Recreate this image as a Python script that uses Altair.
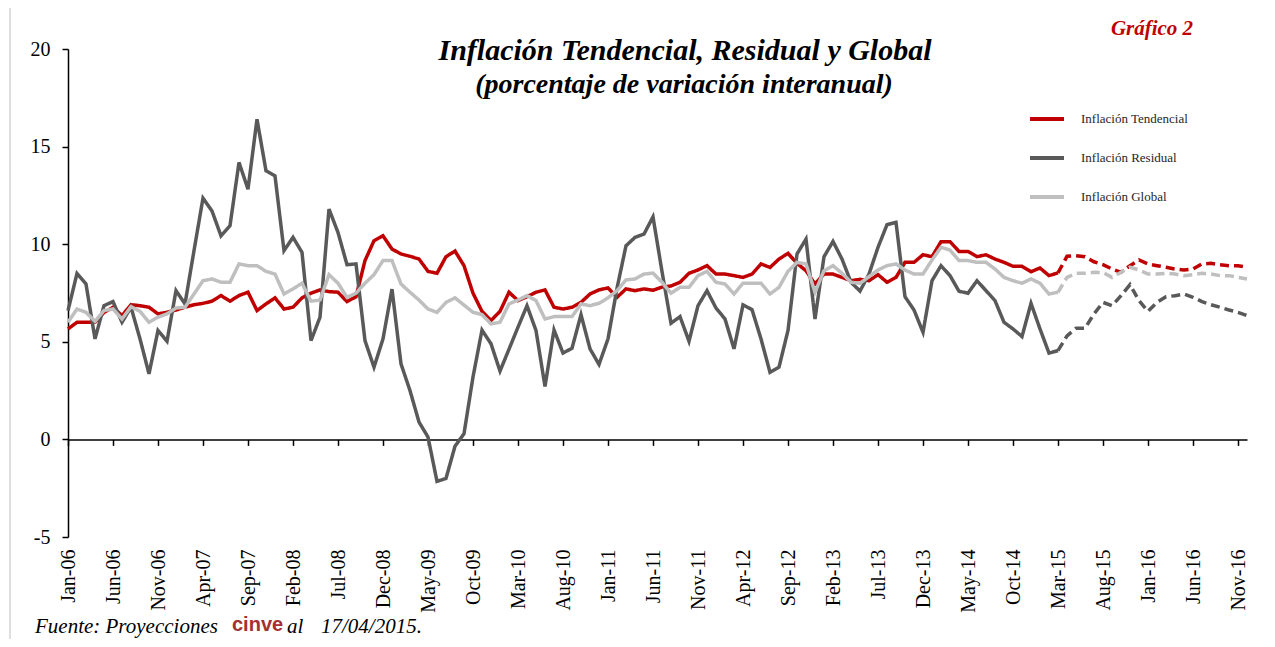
import altair as alt
import pandas as pd

MESES_ABBR = ["Jan", "Feb", "Mar", "Apr", "May", "Jun", "Jul", "Aug", "Sep", "Oct", "Nov", "Dec"]
meses = [f"{m}-{y:02d}" for y in range(6, 17) for m in MESES_ABBR]
etiquetas = meses[::5]

tendencial = [
    5.66, 6.0, 6.0, 6.0, 6.51, 6.77, 6.34, 6.9, 6.85, 6.77, 6.43, 6.51,
    6.63, 6.77, 6.9, 6.97, 7.08, 7.37, 7.08, 7.37, 7.54, 6.6, 6.94, 7.25,
    6.68, 6.77, 7.25, 7.49, 7.66, 7.57, 7.54, 7.06, 7.31, 9.16, 10.18, 10.43,
    9.75, 9.5, 9.38, 9.24, 8.61, 8.51, 9.36, 9.65, 8.9, 7.49, 6.56, 6.09,
    6.56, 7.54, 7.11, 7.31, 7.54, 7.66, 6.77, 6.68, 6.77, 7.02, 7.45, 7.66,
    7.76, 7.28, 7.71, 7.62, 7.71, 7.64, 7.8, 7.86, 8.05, 8.51, 8.68, 8.9,
    8.47, 8.47, 8.39, 8.3, 8.47, 8.99, 8.81, 9.24, 9.53, 9.02, 8.64, 7.96,
    8.47, 8.47, 8.3, 8.13, 8.2, 8.13, 8.44, 8.05, 8.3, 9.07, 9.07, 9.46,
    9.36, 10.13, 10.13, 9.63, 9.63, 9.36, 9.46, 9.24, 9.07, 8.87, 8.87, 8.59,
    8.78, 8.39, 8.53, 9.38, 9.41, 9.36, 9.1, 8.95, 8.73, 8.56, 8.9, 9.19,
    8.99, 8.9, 8.82, 8.73, 8.68, 8.73, 8.99, 9.02, 8.95, 8.9, 8.9, 8.82,
]

residual = [
    6.6, 8.5, 7.96, 5.15, 6.85, 7.06, 6.0, 6.77, 5.15, 3.36, 5.58, 5.03,
    7.62, 6.94, 9.67, 12.36, 11.7, 10.43, 10.95, 14.19, 12.82, 16.4, 13.76, 13.5,
    9.67, 10.35, 9.58, 5.06, 6.26, 11.8, 10.6, 8.95, 8.99, 5.06, 3.7, 5.15,
    7.7, 3.87, 2.5, 0.89, 0.12, -2.15, -2.0, -0.35, 0.29, 3.2, 5.6, 4.9,
    3.5, 4.62, 5.75, 6.85, 5.58, 2.71, 5.61, 4.42, 4.67, 6.39, 4.64, 3.84,
    5.15, 7.74, 9.92, 10.35, 10.52, 11.4, 8.6, 5.95, 6.29, 5.03, 6.85, 7.62,
    6.73, 6.17, 4.64, 6.89, 6.65, 5.15, 3.44, 3.7, 5.58, 9.5, 10.26, 6.17,
    9.36, 10.14, 9.24, 8.05, 7.6, 8.47, 9.84, 11.0, 11.12, 7.31, 6.63, 5.49,
    8.13, 8.9, 8.39, 7.59, 7.49, 8.13, 7.62, 7.11, 6.0, 5.66, 5.27, 6.97,
    5.66, 4.42, 4.55, 5.3, 5.69, 5.69, 6.43, 7.02, 6.85, 7.36, 7.93, 7.11,
    6.56, 7.02, 7.31, 7.36, 7.45, 7.28, 7.06, 6.9, 6.77, 6.63, 6.51, 6.34,
]

global_ = [
    6.0, 6.68, 6.51, 6.05, 6.6, 6.68, 6.17, 6.8, 6.56, 6.0, 6.26, 6.43,
    6.73, 6.77, 7.45, 8.13, 8.22, 8.05, 8.05, 8.99, 8.9, 8.9, 8.61, 8.47,
    7.45, 7.71, 8.0, 7.08, 7.14, 8.44, 8.0, 7.28, 7.49, 8.0, 8.44, 9.16,
    9.16, 7.96, 7.54, 7.14, 6.68, 6.51, 7.02, 7.25, 6.88, 6.51, 6.39, 5.92,
    6.0, 6.94, 7.14, 7.37, 7.11, 6.17, 6.29, 6.29, 6.29, 6.94, 6.85, 6.97,
    7.25, 7.62, 8.17, 8.22, 8.47, 8.52, 8.05, 7.49, 7.79, 7.79, 8.39, 8.61,
    8.05, 7.96, 7.45, 8.0, 8.0, 8.0, 7.45, 7.79, 8.61, 9.07, 8.99, 7.54,
    8.64, 8.9, 8.51, 8.05, 8.0, 8.34, 8.68, 8.9, 8.99, 8.68, 8.47, 8.47,
    9.19, 9.84, 9.7, 9.16, 9.16, 9.07, 9.07, 8.73, 8.3, 8.13, 8.0, 8.22,
    8.0, 7.45, 7.54, 8.3, 8.51, 8.51, 8.56, 8.55, 8.3, 8.56, 8.82, 8.68,
    8.47, 8.47, 8.51, 8.47, 8.39, 8.44, 8.51, 8.47, 8.39, 8.39, 8.3, 8.22,
]

series = ["Inflación Tendencial", "Inflación Residual", "Inflación Global"]
colores = ["#c00000", "#595959", "#bfbfbf"]
ultimo_obs = meses.index("Mar-15")

rows = []
for nombre, vals in zip(series, [tendencial, residual, global_]):
    for i, v in enumerate(vals):
        if i <= ultimo_obs:
            rows.append({"mes": meses[i], "serie": nombre, "valor": v, "tipo": "Observado", "orden": i})
        if i >= ultimo_obs:
            rows.append({"mes": meses[i], "serie": nombre, "valor": v, "tipo": "Proyección", "orden": i})
df = pd.DataFrame(rows)

SERIF = "Liberation Serif"
xscale = alt.Scale(domain=meses, type="point", padding=0)

lineas = alt.Chart(df).mark_line(strokeWidth=3.5, strokeCap="butt", strokeJoin="miter").encode(
    x=alt.X("mes:O", scale=xscale,
            axis=alt.Axis(values=etiquetas, labelAngle=-90, labelFont=SERIF, labelFontSize=20,
                          labelColor="black", ticks=False, domain=False, labelPadding=12,
                          title=None, grid=False)),
    y=alt.Y("valor:Q", scale=alt.Scale(domain=[-5, 20], nice=False, zero=False),
            axis=alt.Axis(values=[-5, 0, 5, 10, 15, 20], labelExpr="toString(datum.value)",
                          labelFont=SERIF, labelFontSize=20,
                          labelColor="black", tickColor="black", domainColor="black",
                          domainWidth=1.5, tickWidth=1.5, tickSize=6, labelPadding=12,
                          title=None, grid=False)),
    color=alt.Color("serie:N", scale=alt.Scale(domain=series, range=colores),
                    legend=alt.Legend(orient="none", legendX=960, legendY=51, title=None,
                                      symbolType="stroke", symbolSize=1156, symbolStrokeWidth=4,
                                      labelFont=SERIF, labelFontSize=13, labelColor="#262626",
                                      rowPadding=12, labelOffset=15, padding=0)),
    strokeDash=alt.StrokeDash("tipo:N", scale=alt.Scale(domain=["Observado", "Proyección"],
                                                         range=[[1, 0], [9, 5]]), legend=None),
    order=alt.Order("orden:Q"),
)

eje_cero = alt.Chart(pd.DataFrame({"mes": etiquetas})).mark_point(opacity=0).encode(
    x=alt.X("mes:O", scale=xscale,
            axis=alt.Axis(orient="bottom", offset=-97.6, values=etiquetas, labels=False,
                          ticks=True, tickSize=6, tickColor="black", tickWidth=1.5,
                          domain=True, domainColor="black", domainWidth=1.5,
                          title=None, grid=False)),
    y=alt.value(0),
)

marco = alt.Chart(pd.DataFrame({"m": [0]})).mark_rule(color="#d4d4d4", strokeWidth=1.5).encode(
    x=alt.value(-58), y=alt.value(-41), y2=alt.value(590)
)

def texto(t, x, y, size, font=SERIF, style="italic", weight="bold", color="black", align="center"):
    return alt.Chart(pd.DataFrame({"t": [t]})).mark_text(
        font=font, fontSize=size, fontStyle=style, fontWeight=weight, color=color,
        align=align, baseline="middle").encode(text="t:N", x=alt.value(x), y=alt.value(y))

titulo1 = texto("Inflación Tendencial, Residual y Global", 617, 2, 30)
titulo2 = texto("(porcentaje de variación interanual)", 616, 36, 28)
grafico = texto("Gráfico 2", 1084, -20, 21, color="#c00000")
fuente1 = texto("Fuente: Proyecciones", -33, 578, 21, weight="normal", align="left")
fuente2 = texto("cinve", 164, 576, 20, font="Liberation Sans", style="normal", weight="bold",
                color="#a5302f", align="left")
fuente3 = texto("al", 219, 578, 21, weight="normal", align="left")
fuente4 = texto("17/04/2015.", 253, 578, 21, weight="normal", align="left")

chart = alt.layer(marco, lineas, eje_cero, titulo1, titulo2, grafico,
                  fuente1, fuente2, fuente3, fuente4).resolve_axis(
    x="independent"
).properties(
    width=1179, height=488,
    autosize=alt.AutoSizeParams(type="none"),
    padding={"left": 60, "top": 41, "right": 20, "bottom": 102},
).configure_view(stroke=None)

chart.save("out.html", embed_options={"renderer": "svg", "actions": False})
